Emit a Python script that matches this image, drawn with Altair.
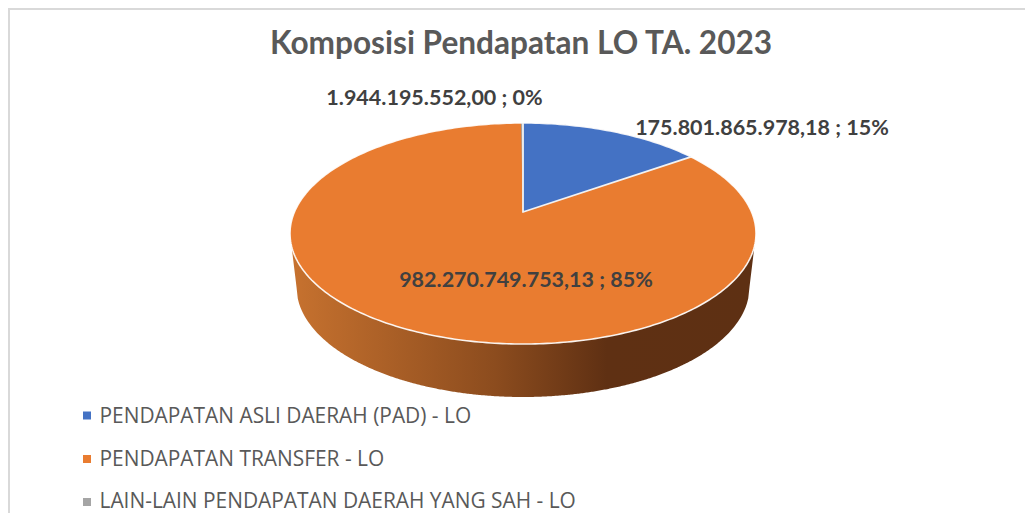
import numpy as np
import pandas as pd
import altair as alt

# --- values ---
categories = ["PENDAPATAN ASLI DAERAH (PAD) - LO", "PENDAPATAN TRANSFER - LO",
              "LAIN-LAIN PENDAPATAN DAERAH YANG SAH - LO"]
values = [175801865978.18, 982270749753.13, 1944195552.00]
value_labels = ["175.801.865.978,18 ; 15%", "982.270.749.753,13 ; 85%", "1.944.195.552,00 ; 0%"]
colors = ["#4472C4", "#E97C30", "#A5A5A5"]
title_text = "Komposisi Pendapatan LO TA. 2023"

# --- view geometry of the tilted pie ---
W, H = 1017, 505
cx, cy, rx, ry = 523.0, 233.5, 233.0, 110.5      # top ellipse
apex_y = 212.0                                   # apparent centre on the tilted disc
low_cy, low_rx, low_ry = 287.0, 226.5, 110.0     # lower rim of the wall
foreshorten = 0.845                              # perspective narrowing of the top slices

x_scale = alt.Scale(domain=[8, 8 + W], nice=False, zero=False)
X = alt.X("x:Q", scale=x_scale, axis=None)
Y = alt.Y("y:Q", scale=alt.Scale(domain=[8 + H, 8], nice=False, zero=False), axis=None)
Y2 = alt.Y2("y2:Q")
X2 = alt.X2("x2:Q")

shares = np.array(values) / sum(values)
t_blue = 2 * np.pi * shares[0] * foreshorten
t_gray = 2 * np.pi * shares[2] * foreshorten


def rim(t):
    return cx + rx * np.sin(t), cy - ry * np.cos(t)


# wall
wx = np.linspace(cx - rx, cx + rx, 361)
wall_top = cy + ry * np.sqrt(np.clip(1 - ((wx - cx) / rx) ** 2, 0, 1))
inside = np.abs(wx - cx) <= low_rx
wall_bot = np.where(
    inside,
    low_cy + low_ry * np.sqrt(np.clip(1 - ((wx - cx) / low_rx) ** 2, 0, 1)),
    cy + (np.abs(wx - cx) - rx) / (low_rx - rx) * (low_cy - cy),
)
wall = alt.Chart(pd.DataFrame({"x": wx, "y": wall_top, "y2": wall_bot})).mark_area(
    color=alt.Gradient(
        gradient="linear", x1=0, x2=1, y1=0, y2=0,
        stops=[
            alt.GradientStop(offset=0, color="#C7722F"),
            alt.GradientStop(offset=0.44, color="#8C4C1E"),
            alt.GradientStop(offset=0.68, color="#5F3013"),
            alt.GradientStop(offset=1, color="#5E3013"),
        ],
    ),
    interpolate="linear",
).encode(x=X, y=Y, y2=Y2)

# top disc (orange slice is the whole disc under the others)
ex = np.linspace(cx - rx, cx + rx, 721)
dy = ry * np.sqrt(np.clip(1 - ((ex - cx) / rx) ** 2, 0, 1))
disc = alt.Chart(pd.DataFrame({"x": ex, "y": cy - dy, "y2": cy + dy})).mark_area(
    color=colors[1]).encode(x=X, y=Y, y2=Y2)

# blue slice
tb = np.linspace(0, t_blue, 120)
bx, by = rim(tb)
bx_end, by_end = rim(t_blue)
blue_df = pd.DataFrame({"x": bx, "y": by,
                        "y2": apex_y + (bx - cx) / (bx_end - cx) * (by_end - apex_y)})
blue = alt.Chart(blue_df).mark_area(color=colors[0]).encode(x=X, y=Y, y2=Y2)

# gray sliver
tg = np.linspace(-t_gray, 0, 12)
gx, gy = rim(tg)
gx_end, gy_end = rim(-t_gray)
gray_df = pd.DataFrame({"x": gx, "y": gy,
                        "y2": apex_y + (gx - cx) / (gx_end - cx) * (gy_end - apex_y)})
gray = alt.Chart(gray_df).mark_area(color=colors[2]).encode(x=X, y=Y, y2=Y2)

# white edges
ts = np.linspace(0, 2 * np.pi, 361)
ox, oy = rim(ts)
outline = alt.Chart(pd.DataFrame({"x": ox, "y": oy, "o": np.arange(361)})).mark_line(
    color="#FFFFFF", strokeWidth=1.6, opacity=0.9, strokeJoin="round"
).encode(x=X, y=Y, order="o:Q")
edges = alt.Chart(pd.DataFrame({
    "x": [cx, cx, bx_end], "y": [cy - ry, apex_y, by_end], "o": [0, 1, 2]
})).mark_line(color="#F2F2F2", strokeWidth=1.8, strokeJoin="round").encode(x=X, y=Y, order="o:Q")

# frame as two thin bars, flush with the canvas corner
frame = alt.Chart(pd.DataFrame({
    "x": [8, 8], "x2": [10, 8 + W], "y": [8 + H, 8], "y2": [8, 10]
})).mark_rect(color="#D9D9D9").encode(x=X, x2=X2, y=Y, y2=Y2)

# title
title = alt.Chart(pd.DataFrame({"x": [521], "y": [45], "t": [title_text]})).mark_text(
    font="Lato", fontWeight="bold", fontSize=31.6, color="#595959", align="center", baseline="middle"
).encode(x=X, y=Y, text="t:N")

# data labels
lab_df = pd.DataFrame({"x": [762, 526, 434.5], "y": [128.5, 281, 99], "t": value_labels})
labels = alt.Chart(lab_df).mark_text(
    font="Lato", fontWeight="bold", fontSize=21.5, color="#404040", align="center", baseline="middle"
).encode(x=X, y=Y, text="t:N")

# legend
leg_y = [415.5, 459, 502]
text_y = [416.5, 460, 502]
leg_df = pd.DataFrame({"x": 87.0, "tx": 99.5, "y": leg_y, "ty": text_y, "t": categories, "c": colors})
squares = alt.Chart(leg_df).mark_point(shape="square", filled=True, size=64, opacity=1).encode(
    x=X, y=Y, color=alt.Color("c:N", scale=None))
legend_text = alt.Chart(leg_df).mark_text(
    font="Open Sans", fontSize=20.9, color="#595959", align="left", baseline="middle"
).encode(x=alt.X("tx:Q", scale=x_scale, axis=None),
         y=alt.Y("ty:Q", scale=Y.scale, axis=None) if False else alt.Y("ty:Q", scale=alt.Scale(domain=[8 + H, 8], nice=False, zero=False), axis=None),
         text="t:N")

chart = alt.layer(frame, wall, disc, gray, blue, outline, edges, title, labels, squares, legend_text).properties(
    width=W, height=H, padding={"left": 0, "right": 0, "top": 0, "bottom": 0}, background="#FFFFFF",
    autosize=alt.AutoSizeParams(type="fit", contains="padding")
).configure_view(stroke=None)

chart.save("out.html", embed_options={"renderer": "svg", "actions": False})
